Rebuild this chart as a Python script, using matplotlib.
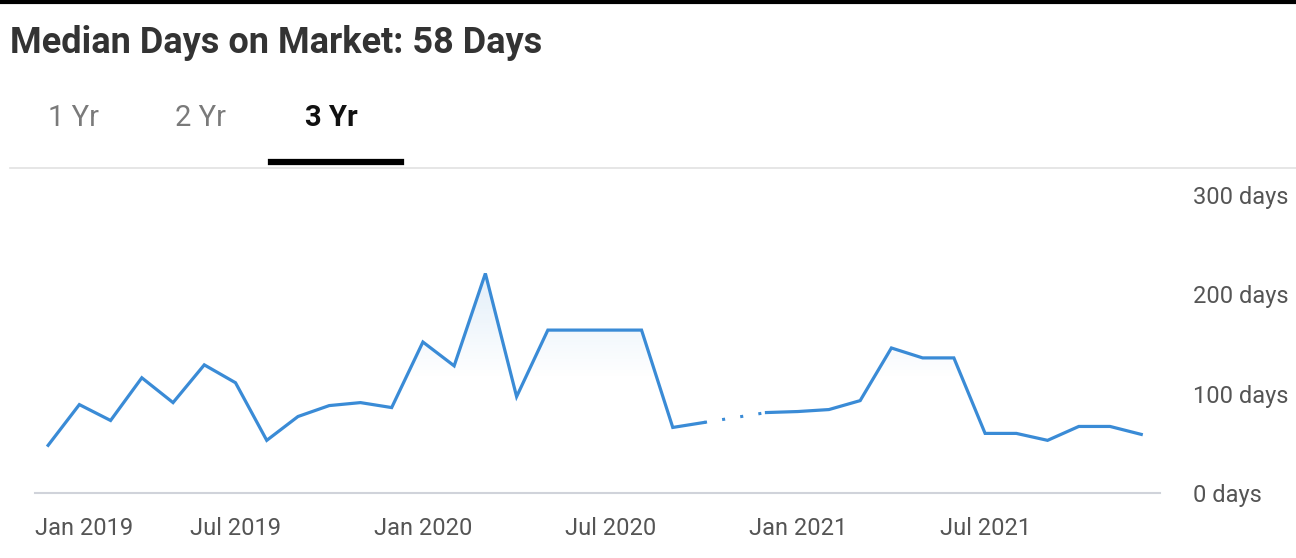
import matplotlib
matplotlib.use("Agg")
import matplotlib.pyplot as plt, numpy as np
import matplotlib.transforms as mtrans
from matplotlib.lines import Line2D

plt.rcParams['font.family'] = ['Roboto', 'DejaVu Sans']

# monthly median days on market, Jan 2019 .. Dec 2021 (Nov 2020 missing)
months = np.arange(36)
days = [48, 89, 73, 116, 91, 129, 111, 53, 77, 88, 91, 86,
        152, 128, 221, 97, 164, 164, 164, 164, 66, 71, None, 81,
        82, 84, 93, 146, 136, 136, 60, 60, 53, 67, 67, 59]
xtick_pos = [0, 6, 12, 18, 24, 30]
xtick_labels = ['Jan 2019', 'Jul 2019', 'Jan 2020', 'Jul 2020', 'Jan 2021', 'Jul 2021']
ytick_pos = [0, 100, 200, 300]
ytick_labels = ['0 days', '100 days', '200 days', '300 days']
tabs = ['1 Yr', '2 Yr', '3 Yr']

vals = np.array([np.nan if v is None else v for v in days], dtype=float)
blue = '#3a8bd6'

W, H = 1296, 558
fig = plt.figure(figsize=(W / 100, H / 100), dpi=100)
ax = fig.add_axes([35 / W, 1 - 493 / H, (1160 - 35) / W, (493 - 195) / H])

# gradient fill under the line
ok = ~np.isnan(vals)
poly = ax.fill_between(months[ok], vals[ok], 0, color='none', lw=0)
grad = np.linspace(0, 1, 256).reshape(-1, 1)
cmap = matplotlib.colors.LinearSegmentedColormap.from_list(
    'g', [(1, 1, 1, 0), (0.23, 0.55, 0.84, 0.0), (0.23, 0.55, 0.84, 0.16)])
im = ax.imshow(grad, extent=[-0.5, 36, 0, 230], origin='lower', aspect='auto',
               cmap=cmap, zorder=1)
path = poly.get_paths()[0]
im.set_clip_path(path, transform=ax.transData)

ax.plot(months, vals, color=blue, lw=2.3, zorder=3, solid_joinstyle='miter')
# dotted link across the missing month
gap = np.where(np.isnan(vals))[0]
for g in gap:
    ax.plot([g - 1, g + 1], [vals[g - 1], vals[g + 1]], color=blue,
            lw=2.2, ls=(0, (1, 5)), zorder=3)

ax.set_xlim(-0.42, 35.6)
ax.set_ylim(0, 300)
for s in ['top', 'left', 'right']:
    ax.spines[s].set_visible(False)
ax.spines['bottom'].set_color('#d0d3da')
ax.spines['bottom'].set_linewidth(1.5)

ax.set_xticks(xtick_pos)
ax.set_xticklabels(xtick_labels, fontsize=17, color='#555555')
ax.tick_params(axis='x', length=0, pad=17)
lbl0 = ax.get_xticklabels()[0]
lbl0.set_ha('left')
lbl0.set_transform(lbl0.get_transform() + mtrans.ScaledTranslation(-13 / 100, 0, fig.dpi_scale_trans))

ax.yaxis.tick_right()
ax.set_yticks(ytick_pos)
ax.set_yticklabels(ytick_labels, fontsize=17, color='#555555')
ax.tick_params(axis='y', length=0, pad=24)
ax.patch.set_alpha(0)

# header
fig.add_artist(Line2D([0, 1], [1 - 2 / H, 1 - 2 / H], color='black', lw=3))
fig.text(10 / W, 1 - 43 / H, 'Median Days on Market: 58 Days', fontsize=26,
         fontweight='bold', color='#333333', va='center', ha='left')
tab_x = [48, 175, 305]
for i, t in enumerate(tabs):
    sel = i == len(tabs) - 1
    fig.text(tab_x[i] / W, 1 - 118 / H, t, fontsize=21,
             fontweight='bold' if sel else 'normal',
             color='#111111' if sel else '#7a7a7a', va='center', ha='left')
fig.add_artist(Line2D([10 / W, 1], [1 - 168 / H, 1 - 168 / H], color='#e2e2e2', lw=1.2))
fig.add_artist(Line2D([271 / W, 401 / W], [1 - 162 / H, 1 - 162 / H], color='black', lw=4.5))

fig.savefig('out.png', dpi=100, facecolor='white')
